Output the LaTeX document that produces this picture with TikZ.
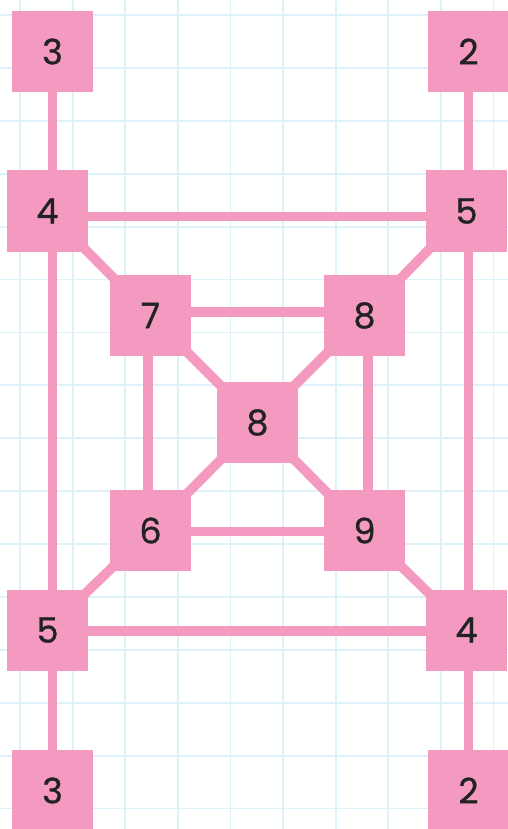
\documentclass[tikz,border=0pt]{standalone}
\usepackage{fontspec}
\setmainfont{Poppins}[FakeBold=0.9]
\definecolor{pinkbox}{RGB}{244,154,193}
\definecolor{gridblue}{RGB}{222,240,248}
\definecolor{digit}{RGB}{34,34,34}
\pgfdeclarelayer{gridlayer}
\pgfdeclarelayer{edgelayer}
\pgfsetlayers{gridlayer,edgelayer,main}
\begin{document}
\begin{tikzpicture}[x=1pt,y=-1pt,
  numbox/.style={rectangle,fill=pinkbox,minimum size=81pt,inner sep=0pt,
    text=digit,font=\fontsize{35}{35}\selectfont},
  link/.style={draw=pinkbox,line width=9.6pt},
  gridline/.style={draw=gridblue,line width=1.8pt}]
\useasboundingbox (0,0) rectangle (508,829);
\begin{pgfonlayer}{gridlayer}
  \fill[white] (0,0) rectangle (508,829);
  \foreach \k in {0,...,9} \draw[gridline] ({20+52.6*\k},0) -- ({20+52.6*\k},829);
  \foreach \k in {0,...,15} \draw[gridline] (0,{15+52.9*\k}) -- (508,{15+52.9*\k});
\end{pgfonlayer}
% nodes
\node[numbox] (n3a) at (52.5,51.5) {3};
\node[numbox] (n2a) at (468.5,51.5) {2};
\node[numbox] (n4a) at (47.5,211) {4};
\node[numbox] (n5b) at (466.5,211) {5};
\node[numbox] (n7) at (150.5,315.5) {7};
\node[numbox] (n8r) at (364.5,315.5) {8};
\node[numbox] (n8c) at (257.5,422.5) {8};
\node[numbox] (n6) at (150.5,530.5) {6};
\node[numbox] (n9) at (364.5,530.5) {9};
\node[numbox] (n5a) at (47.5,630) {5};
\node[numbox] (n4b) at (466.5,630) {4};
\node[numbox] (n3b) at (52.5,790.5) {3};
\node[numbox] (n2b) at (468.5,790.5) {2};
% connectors
\begin{pgfonlayer}{edgelayer}
  \draw[link] (n3a) -- (n3a |- n4a);
  \draw[link] (n3a |- n4a) -- (n3a |- n5a);
  \draw[link] (n3b |- n5a) -- (n3b);
  \draw[link] (n2a) -- (n2a |- n5b);
  \draw[link] (n2a |- n5b) -- (n2a |- n4b);
  \draw[link] (n2b |- n4b) -- (n2b);
  \draw[link] ([yshift=-5.5pt]n4a.center) -- ([yshift=-5.5pt]n5b.center);
  \draw[link] ([yshift=-1pt]n5a.center) -- ([yshift=-1pt]n4b.center);
  \draw[link] ([yshift=3.5pt]n7.center) -- ([yshift=3.5pt]n8r.center);
  \draw[link] ([yshift=-1pt]n6.center) -- ([yshift=-1pt]n9.center);
  \draw[link] ([xshift=-2.5pt]n7.center) -- ([xshift=-2.5pt]n6.center);
  \draw[link] ([xshift=3.5pt]n8r.center) -- ([xshift=3.5pt]n9.center);
  \draw[link] (n4a.center) -- (n7.center);
  \draw[link] (n5b.center) -- (n8r.center);
  \draw[link] (n7.center) -- (n8c.center);
  \draw[link] (n8r.center) -- (n8c.center);
  \draw[link] (n8c.center) -- (n6.center);
  \draw[link] (n8c.center) -- (n9.center);
  \draw[link] (n6.center) -- (n5a.center);
  \draw[link] (n9.center) -- (n4b.center);
\end{pgfonlayer}
\end{tikzpicture}
\end{document}
